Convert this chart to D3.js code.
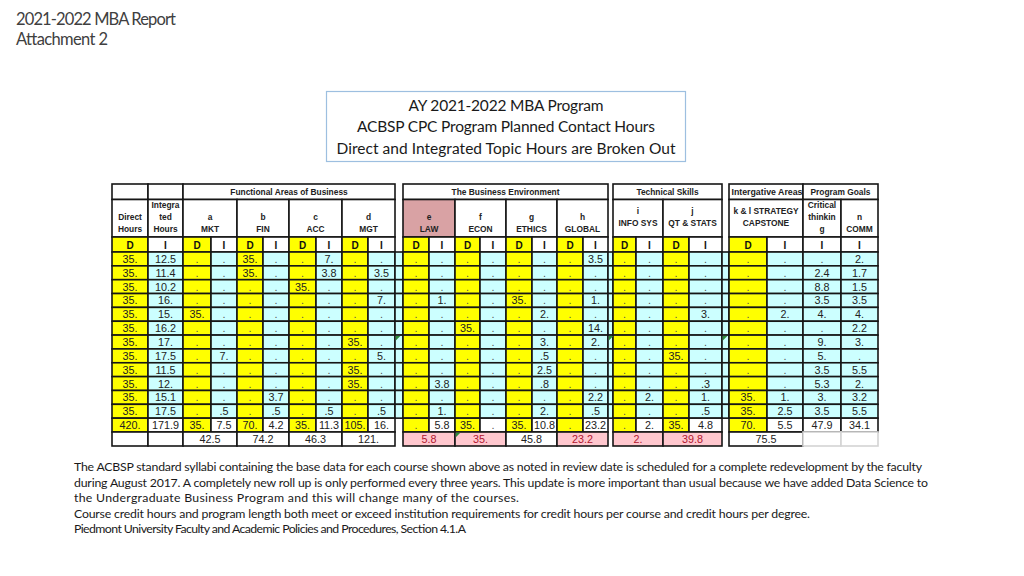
<!DOCTYPE html>
<html><head><meta charset="utf-8">
<script src="https://cdn.jsdelivr.net/npm/d3@7"></script>
<style>html,body{margin:0;padding:0;background:#fff;}svg{display:block;}</style>
</head><body>
<svg id="c" width="1024" height="576"></svg>
<script>
// ---------- DATA ----------
const N = null;
const rowLabels = ["c1","c2","c3","c4","c5","c6","c7","c8","c9","c10","c11","c12","total"];
const directHours     = [35,35,35,35,35,35,35,35,35,35,35,35,420];
const integratedHours = [12.5,11.4,10.2,16,15,16.2,17,17.5,11.5,12,15.1,17.5,171.9];
const mktD  = [N,N,N,N,35,N,N,N,N,N,N,N,35];
const mktI  = [N,N,N,N,N,N,N,7,N,N,N,.5,7.5];
const finD  = [35,35,N,N,N,N,N,N,N,N,N,N,70];
const finI  = [N,N,N,N,N,N,N,N,N,N,3.7,.5,4.2];
const accD  = [N,N,35,N,N,N,N,N,N,N,N,N,35];
const accI  = [7,3.8,N,N,N,N,N,N,N,N,N,.5,11.3];
const mgtD  = [N,N,N,N,N,N,35,N,35,35,N,N,105];
const mgtI  = [N,3.5,N,7,N,N,N,5,N,N,N,.5,16];
const lawD  = [N,N,N,N,N,N,N,N,N,N,N,N,N];
const lawI  = [N,N,N,1,N,N,N,N,N,3.8,N,1,5.8];
const econD = [N,N,N,N,N,35,N,N,N,N,N,N,35];
const econI = [N,N,N,N,N,N,N,N,N,N,N,N,N];
const ethD  = [N,N,N,35,N,N,N,N,N,N,N,N,35];
const ethI  = [N,N,N,N,2,N,3,.5,2.5,.8,N,2,10.8];
const globD = [N,N,N,N,N,N,N,N,N,N,N,N,N];
const globI = [3.5,N,N,1,N,14,2,N,N,N,2.2,.5,23.2];
const infoD = [N,N,N,N,N,N,N,N,N,N,N,N,N];
const infoI = [N,N,N,N,N,N,N,N,N,N,2,N,2];
const qtD   = [N,N,N,N,N,N,N,35,N,N,N,N,35];
const qtI   = [N,N,N,N,3,N,N,N,N,.3,1,.5,4.8];
const capD  = [N,N,N,N,N,N,N,N,N,N,35,35,70];
const capI  = [N,N,N,N,2,N,N,N,N,N,1,2.5,5.5];
const critical = [N,2.4,8.8,3.5,4,N,9,5,3.5,5.3,3,3.5,47.9];
const comm     = [2,1.7,1.5,3.5,4,2.2,3,N,5.5,2,3.2,5.5,34.1];

const groupKeys   = ["a","b","c","d","e","f","g","h","i","j","k"];
const groupTotals = ["42.5","74.2","46.3","121.","5.8","35.","45.8","23.2","2.","39.8","75.5"];
const groupFlag   = [false,false,false,false,true,true,false,true,true,true,false];

const areaNames  = ["Functional Areas of Business","The Business Environment","Technical Skills","Intergative Areas","Program Goals"];
const topicLines = {
  DH:["Direct","Hours"], IH:["Integra","ted","Hours"],
  a:["a","MKT"], b:["b","FIN"], c:["c","ACC"], d:["d","MGT"],
  e:["e","LAW"], f:["f","ECON"], g:["g","ETHICS"], h:["h","GLOBAL"],
  i:["i","INFO SYS"], j:["j","QT & STATS"], k:["k & l  STRATEGY","CAPSTONE"],
  crit:["Critical","thinkin","g"], n:["n","COMM"]
};

// ---------- LAYOUT ----------
const colKeys  = ["DH","IH","aD","aI","bD","bI","cD","cI","dD","dI","g1","eD","eI","fD","fI","gD","gI","hD","hI","g2","iD","iI","jD","jI","g3","kD","kI","crit","n"];
const colEdges = [112,148,183,211,237,263,289,316,342,368,395,403,429,455,480,506,532,557,583,608,613,636,663,689,722,729,767,803,841,878];
const series = {DH:directHours,IH:integratedHours,aD:mktD,aI:mktI,bD:finD,bI:finI,cD:accD,cI:accI,dD:mgtD,dI:mgtI,
  eD:lawD,eI:lawI,fD:econD,fI:econI,gD:ethD,gI:ethI,hD:globD,hI:globI,iD:infoD,iI:infoI,jD:qtD,jI:qtI,kD:capD,kI:capI,crit:critical,n:comm};

const x0 = d3.scaleOrdinal().domain(colKeys).range(colEdges.slice(0,-1));
const x1 = d3.scaleOrdinal().domain(colKeys).range(colEdges.slice(1));
const y = d3.scaleBand().domain(rowLabels).range([252,432]).paddingInner(0).paddingOuter(0);
const yA=[184,199.5], yB=[199.5,237], yC=[237,252], yG=[432,446];

const YEL="#ffff00", CY="#ccffff", STK="#161616";
const fmt = v => { if (v==null) return "."; if (Number.isInteger(v)) return v+"."; let s=String(v); return s.startsWith("0.")?s.slice(1):s; };
const isGap = k => /^g\d$/.test(k);
const isD = k => k==="DH" || (/^[a-k]D$/.test(k));

const svg = d3.select("#c");
const FT = "'Liberation Sans', Arial, sans-serif";

// page titles
const TT = "Lato, 'Open Sans', sans-serif";
svg.append("text").attr("x",16).attr("y",25).attr("font-family",TT).attr("font-size",16.5).attr("fill","#404040")
  .attr("textLength",160).attr("lengthAdjust","spacing").text("2021-2022 MBA Report");
svg.append("text").attr("x",16).attr("y",45).attr("font-family",TT).attr("font-size",16.5).attr("fill","#404040")
  .attr("textLength",92).attr("lengthAdjust","spacing").text("Attachment 2");

// title box
svg.append("rect").attr("x",326.5).attr("y",91.5).attr("width",359).attr("height",70).attr("fill","#fff").attr("stroke","#9dbfe0").attr("stroke-width",1.2);
const boxLines = ["AY 2021-2022 MBA Program","ACBSP CPC Program Planned Contact Hours","Direct and Integrated Topic Hours are Broken Out"];
const boxW = [195,298,339], boxY=[111,132,154];
boxLines.forEach((t,i)=>svg.append("text").attr("x",506).attr("y",boxY[i]).attr("text-anchor","middle")
  .attr("font-family",TT).attr("font-size",15.5).attr("fill","#1a1a1a").attr("textLength",boxW[i]).attr("lengthAdjust","spacing").text(t));

const T = svg.append("g");
function cell(xa,xb,ya,yb,fill,stroke){
  T.append("rect").attr("x",xa).attr("y",ya).attr("width",xb-xa).attr("height",yb-ya)
   .attr("fill",fill||"none").attr("stroke",stroke===undefined?STK:stroke).attr("stroke-width",stroke===null?0:1.6);
}
function txt(x,yy,s,opt){
  opt=opt||{};
  return T.append("text").attr("x",x).attr("y",yy).attr("text-anchor",opt.anchor||"middle")
   .attr("font-family",FT).attr("font-size",opt.size||10).attr("font-weight",opt.bold?"bold":"normal")
   .attr("fill",opt.color||"#222").text(s);
}

// Row A: area headers
const areaSpans = [["aD","dI"],["eD","hI"],["iD","jI"],["kD","kI"],["crit","n"]];
cell(x0("DH"),x1("DH"),yA[0],yA[1],"#fff");
cell(x0("IH"),x1("IH"),yA[0],yA[1],"#fff");
areaSpans.forEach((s,i)=>{
  const a=x0(s[0]), b=x1(s[1]);
  cell(a,b,yA[0],yA[1],"#fff");
  if (i===3){
    svg.append("clipPath").attr("id","clipk").append("rect").attr("x",a+1.5).attr("y",yA[0]).attr("width",b-a-2).attr("height",yA[1]-yA[0]);
    txt(b-0.5,195,areaNames[i],{bold:true,size:8.8,anchor:"end"}).attr("clip-path","url(#clipk)");
  } else txt((a+b)/2,195,areaNames[i],{bold:true,size:8.4});
});

// Row B: topic headers
const topicSpans = {DH:["DH","DH"],IH:["IH","IH"],a:["aD","aI"],b:["bD","bI"],c:["cD","cI"],d:["dD","dI"],e:["eD","eI"],f:["fD","fI"],
  g:["gD","gI"],h:["hD","hI"],i:["iD","iI"],j:["jD","jI"],k:["kD","kI"],crit:["crit","crit"],n:["n","n"]};
Object.keys(topicSpans).forEach(key=>{
  const s=topicSpans[key], a=x0(s[0]), b=x1(s[1]);
  cell(a,b,yB[0],yB[1], key==="e"?"#d9a2a4":"#fff");
  const lines=topicLines[key];
  let ys;
  if (lines.length===3) ys=[208,220,232];
  else if (key==="i"||key==="j"||key==="k") ys=[214,226];
  else ys=[220,232];
  lines.forEach((l,i)=>txt((a+b)/2,ys[i],l,{bold:true,size:8.4}));
});

// Row C: D / I markers
colKeys.filter(k=>!isGap(k)).forEach(k=>{
  const d=isD(k);
  cell(x0(k),x1(k),yC[0],yC[1], d?YEL:"#fff");
  txt((x0(k)+x1(k))/2,248.8, d?"D":"I",{bold:true,size:10,color:"#111"});
});

// data rows + total row
rowLabels.forEach((r,ri)=>{
  const isTot = r==="total";
  const ya=y(r), yb=ya+y.bandwidth();
  colKeys.forEach(k=>{
    if (isGap(k)){
      if (!isTot) cell(x0(k),x1(k),ya,yb,CY);
      return;
    }
    const d=isD(k);
    cell(x0(k),x1(k),ya,yb, d?YEL:(isTot?"#fff":CY));
    const v=series[k][ri];
    txt((x0(k)+x1(k))/2, ya+y.bandwidth()/2+4, fmt(v), {size:10.8, color: v==null?"#555":"#222"});
  });
});

// group totals row
cell(x0("DH"),x1("DH"),yG[0],yG[1],"#fff");
cell(x0("IH"),x1("IH"),yG[0],yG[1],"#fff");
groupKeys.forEach((g,i)=>{
  const a=x0(g+"D"), b=x1(g+"I");
  cell(a,b,yG[0],yG[1], groupFlag[i]?"#ffc7ce":"#fff");
  txt((a+b)/2,yG[0]+11,groupTotals[i],{size:10.8,color:groupFlag[i]?"#b0152f":"#222"});
});
cell(x0("crit"),x1("crit"),yG[0],yG[1],"#fff","#d4d4d4");
cell(x0("n"),x1("n"),yG[0],yG[1],"#fff","#d4d4d4");

// Excel indicator triangles
const marks = [[x0("g1"),y("c7")],[x0("g2"),y("c7")],[x0("g3"),y("c7")],[x0("fD"),yG[0]]];
marks.forEach(m=>T.append("path").attr("d",`M${m[0]+0.8},${m[1]+0.8}h4.5l-4.5,4.5z`).attr("fill","#2e8b3a"));

// footer text
const foot = [
 "The ACBSP standard syllabi containing the base data for each course shown above as noted in review date is scheduled for a complete redevelopment by the faculty",
 "during August 2017.  A completely new roll up is only performed every three years. This update is more important than usual because we have added Data Science to",
 "the Undergraduate Business Program and this will change many of the courses.",
 "Course credit hours and program length both meet or exceed institution requirements for credit hours per course and credit hours per degree.",
 "Piedmont University Faculty and Academic Policies and Procedures, Section 4.1.A"
];
const footW = [848,854,445,736,392];
foot.forEach((t,i)=>svg.append("text").attr("x",74).attr("y",471+i*15.6).attr("font-family",TT).attr("font-size",12.3)
  .attr("fill","#1a1a1a").attr("textLength",footW[i]).attr("lengthAdjust","spacing").text(t));
</script>
</body></html>
